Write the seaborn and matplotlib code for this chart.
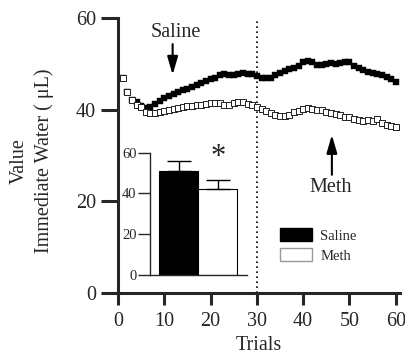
import pandas as pd
import matplotlib.pyplot as plt
import seaborn as sns
from matplotlib.patches import Patch

# Trial-by-trial immediate water (uL)
trials = list(range(1, 61))
saline = [46.9, 43.8, 42.1, 41.6, 40.8, 40.3, 40.6, 41.3, 41.8, 42.5,
          43.0, 43.4, 43.8, 44.2, 44.5, 44.9, 45.3, 45.8, 46.3, 46.6,
          47.0, 47.5, 47.8, 47.6, 47.6, 47.8, 48.0, 47.7, 47.7, 47.4,
          46.9, 46.9, 47.0, 47.6, 48.0, 48.5, 48.9, 49.1, 49.5, 50.5,
          50.6, 50.3, 49.8, 49.8, 50.0, 50.1, 50.0, 50.1, 50.4, 50.5,
          49.6, 49.0, 48.6, 48.3, 48.1, 47.8, 47.6, 47.1, 46.6, 46.1]
meth = [46.9, 43.8, 42.1, 41.1, 40.5, 39.6, 39.3, 39.2, 39.5, 39.8,
        40.0, 40.2, 40.4, 40.5, 40.7, 40.9, 41.0, 41.1, 41.3, 41.4,
        41.4, 41.5, 41.1, 41.0, 41.4, 41.6, 41.6, 41.3, 41.0, 40.5,
        40.2, 39.7, 39.2, 38.8, 38.6, 38.6, 38.9, 39.4, 39.8, 40.2,
        40.4, 40.1, 40.0, 39.9, 39.5, 39.3, 39.1, 38.8, 38.5, 38.4,
        38.0, 37.7, 37.6, 37.7, 37.6, 37.9, 37.2, 36.7, 36.4, 36.3]

# Inset: session means with SEM
groups = ["Saline", "Meth"]
group_means = [51.1, 42.2]
group_sem = [4.9, 4.4]

sns.set_style("ticks")
plt.rcParams["font.family"] = ["Liberation Serif", "DejaVu Serif"]

df = pd.DataFrame({"trial": trials, "Saline": saline, "Meth": meth})

fig = plt.figure(figsize=(4.06, 3.59), dpi=100)
ax = fig.add_axes([118 / 406, 1 - 293 / 359, 282.4 / 406, 275 / 359])

sns.scatterplot(data=df, x="trial", y="Saline", marker="s", s=13,
                color="black", edgecolor="black", linewidth=0.3, ax=ax, zorder=3)
sns.scatterplot(data=df, x="trial", y="Meth", marker="s", s=13,
                color="white", edgecolor="#222222", linewidth=0.7, ax=ax, zorder=4)

ax.axvline(30, color="black", linestyle=(0, (1, 2)), linewidth=1.2, zorder=1)

arrow = dict(arrowstyle="-|>,head_length=0.55,head_width=0.16",
             mutation_scale=20, color="black", lw=1.5, shrinkA=0, shrinkB=0)
ax.annotate("", xy=(11.8, 47.6), xytext=(11.8, 54.3), arrowprops=arrow)
ax.text(12.5, 56.8, "Saline", ha="center", va="center", fontsize=14.5)
ax.annotate("", xy=(46.2, 34.5), xytext=(46.2, 25.8), arrowprops=arrow)
ax.text(46.0, 23.1, "Meth", ha="center", va="center", fontsize=14.5)

ax.set_xlim(0, 61)
ax.set_ylim(0, 60)
ax.set_xticks(range(0, 61, 10))
ax.set_yticks([0, 20, 40, 60])
ax.set_xlabel("Trials", fontsize=14.5)
ax.set_ylabel("Value\nImmediate Water ( μL)", fontsize=14.5, linespacing=1.4)
ax.yaxis.set_label_coords(-0.225, 0.48)
ax.tick_params(axis="x", length=8.6, width=2.2, labelsize=14.5, pad=5)
ax.tick_params(axis="y", length=12, width=2.2, labelsize=14.5, pad=4)
for side in ["left", "bottom"]:
    ax.spines[side].set_linewidth(2.2)
sns.despine(ax=ax)

handles = [Patch(facecolor="black", edgecolor="black"),
           Patch(facecolor="white", edgecolor="#999999")]
ax.legend(handles, groups, loc="upper left", bbox_to_anchor=(0.574, 0.235),
          frameon=False, fontsize=10.5, borderpad=0, borderaxespad=0,
          handlelength=2.2, handleheight=1.0, handletextpad=0.55,
          labelspacing=0.35)

# Inset bar chart
ax2 = fig.add_axes([150 / 406, 1 - 275 / 359, 97 / 406, 122.3 / 359])
bar_df = pd.DataFrame({"group": groups, "mean": group_means})
sns.barplot(data=bar_df, x="group", y="mean", hue="group",
            palette=["black", "white"], edgecolor="black", linewidth=0.8,
            width=1.0, legend=False, ax=ax2)
ax2.errorbar([0, 1], group_means, yerr=[[0, 0], group_sem], fmt="none",
             ecolor="black", elinewidth=1.0, capsize=8.6, capthick=1.0)
ax2.text(1.0, 57.5, "*", ha="center", va="center", fontsize=22)
ax2.set_xlim(-0.74, 1.75)
ax2.set_ylim(0, 60)
ax2.set_yticks([0, 20, 40, 60])
ax2.set_xticks([])
ax2.set_xlabel("")
ax2.set_ylabel("")
ax2.tick_params(axis="y", length=8.6, width=1.0, labelsize=10.5, pad=1)
for side in ["left", "bottom"]:
    ax2.spines[side].set_linewidth(1.0)
sns.despine(ax=ax2)
ax2.set_facecolor("white")

fig.savefig("out.png", dpi=100)
plt.close(fig)
